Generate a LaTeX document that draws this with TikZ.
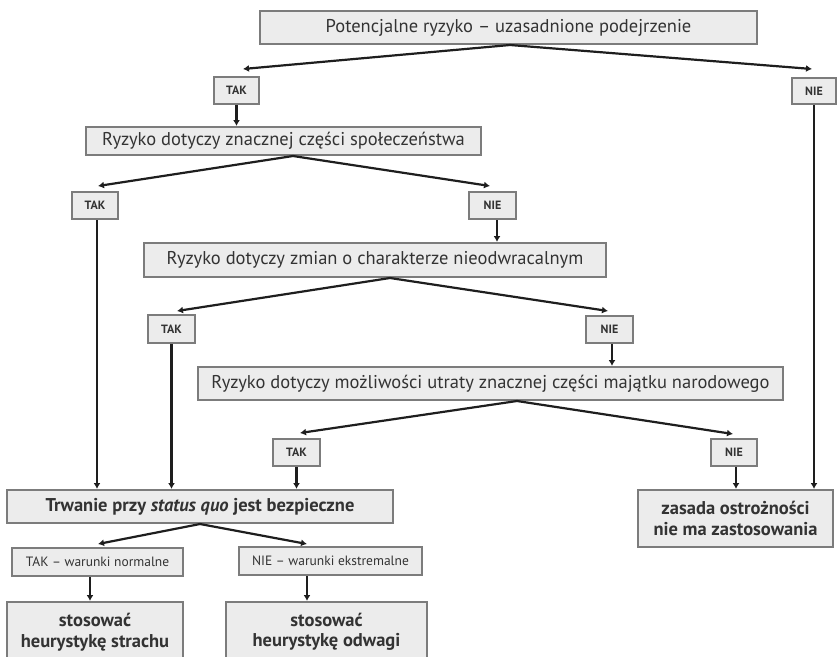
\documentclass[tikz,border=0pt]{standalone}
\usepackage{fontspec}
\setmainfont{PT Sans}
\usetikzlibrary{arrows.meta}
\definecolor{boxfill}{HTML}{ECECEC}
\definecolor{boxline}{HTML}{7C7C7C}
\definecolor{textgray}{HTML}{333333}
\definecolor{arrowgray}{HTML}{1E1E1E}
\begin{document}
\begin{tikzpicture}
[x=1pt, y=-1pt,
box/.style={draw=boxline, line width=2pt, fill=boxfill, text=textgray, inner sep=0pt, align=center},
question/.style={box, font=\fontsize{18.5}{21}\selectfont},
answer/.style={box, font=\fontsize{12}{14}\selectfont\bfseries},
condition/.style={box, font=\fontsize{13.5}{16}\selectfont},
outcome/.style={box, font=\fontsize{18.5}{20.5}\selectfont\bfseries},
arrow/.style={draw=arrowgray, line width=2.2pt, -{Latex[length=6pt,width=7pt]}}]
\useasboundingbox (0,0) rectangle (837,656);

\node[question, minimum width=497pt, minimum height=33pt] (risk) at (508.5,27.5) {Potencjalne ryzyko -- uzasadnione podejrzenie};
\node[answer, minimum width=45pt, minimum height=27pt] (yes1) at (236.5,90.5) {TAK};
\node[answer, minimum width=44pt, minimum height=26pt] (no1) at (814,91) {NIE};
\node[question, minimum width=395pt, minimum height=28pt] (society) at (283.5,141) {Ryzyko dotyczy znacznej części społeczeństwa};
\node[answer, minimum width=46pt, minimum height=27pt] (yes2) at (95,205.5) {TAK};
\node[answer, minimum width=47pt, minimum height=27pt] (no2) at (492.5,205.5) {NIE};
\node[question, minimum width=462pt, minimum height=34pt] (irrev) at (375,260) {Ryzyko dotyczy zmian o charakterze nieodwracalnym};
\node[answer, minimum width=47pt, minimum height=28pt] (yes3) at (171.5,329) {TAK};
\node[answer, minimum width=47pt, minimum height=27pt] (no3) at (609.5,329.5) {NIE};
\node[question, minimum width=585pt, minimum height=33pt] (assets) at (490.5,383.5) {Ryzyko dotyczy możliwości utraty znacznej części majątku narodowego};
\node[answer, minimum width=47pt, minimum height=27pt] (yes4) at (296.5,452.5) {TAK};
\node[answer, minimum width=46pt, minimum height=27pt] (no4) at (734,452.5) {NIE};
\node[outcome, minimum width=386pt, minimum height=33pt] (statusquo) at (200,506.5) {Trwanie przy \textit{status quo} jest bezpieczne};
\node[outcome, minimum width=195pt, minimum height=57pt] (noapply) at (735.5,518.5) {zasada ostrożności\\nie ma zastosowania};
\node[condition, minimum width=171pt, minimum height=28pt] (normal) at (97.5,562) {TAK -- warunki normalne};
\node[condition, minimum width=183pt, minimum height=28pt] (extreme) at (330.5,561) {NIE -- warunki ekstremalne};
\node[outcome, minimum width=176pt, minimum height=60pt] (fear) at (95,632) {stosować\\heurystykę strachu};
\node[outcome, minimum width=201pt, minimum height=60pt] (courage) at (326.5,632) {stosować\\heurystykę odwagi};

\draw[arrow] ([xshift=1.5pt]risk.south) -- ([xshift=6.5pt,yshift=7pt]yes1.north);
\draw[arrow] ([xshift=1.5pt]risk.south) -- ([xshift=-2pt,yshift=8pt]no1.north);
\draw[arrow] (yes1.south) -- (yes1.south |- society.north);
\draw[arrow] (no1.south) -- (no1.south |- noapply.north);

\draw[arrow] ([xshift=9.5pt]society.south) -- ([xshift=3pt,yshift=5pt]yes2.north);
\draw[arrow] ([xshift=9.5pt]society.south) -- ([xshift=-2.5pt,yshift=5pt]no2.north);
\draw[arrow] ([xshift=2pt]yes2.south) -- ([xshift=2pt]yes2.south |- statusquo.north);
\draw[arrow] ([xshift=4.5pt]no2.south) -- ([xshift=4.5pt]no2.south |- irrev.north);

\draw[arrow] ([xshift=15pt]irrev.south) -- ([xshift=5.5pt,yshift=3pt]yes3.north);
\draw[arrow] ([xshift=15pt]irrev.south) -- ([xshift=-1.5pt,yshift=4pt]no3.north);
\draw[arrow] (yes3.south) -- (yes3.south |- statusquo.north);
\draw[arrow] ([xshift=2.5pt]no3.south) -- ([xshift=2.5pt]no3.south |- assets.north);

\draw[arrow] ([xshift=26.5pt]assets.south) -- ([xshift=3.5pt,yshift=5pt]yes4.north);
\draw[arrow] ([xshift=26.5pt]assets.south) -- ([xshift=-1pt,yshift=4pt]no4.north);
\draw[arrow] (yes4.south) -- (yes4.south |- statusquo.north);
\draw[arrow] ([xshift=2pt]no4.south) -- ([xshift=2pt]no4.south |- noapply.north);

\draw[arrow] (statusquo.south) -- ([xshift=0.5pt,yshift=3pt]normal.north);
\draw[arrow] (statusquo.south) -- ([xshift=-23.5pt,yshift=2pt]extreme.north);
\draw[arrow] ([xshift=-7.5pt]normal.south) -- ([xshift=-7.5pt]normal.south |- fear.north);
\draw[arrow] ([xshift=-23.5pt]extreme.south) -- ([xshift=-23.5pt]extreme.south |- courage.north);
\end{tikzpicture}
\end{document}
